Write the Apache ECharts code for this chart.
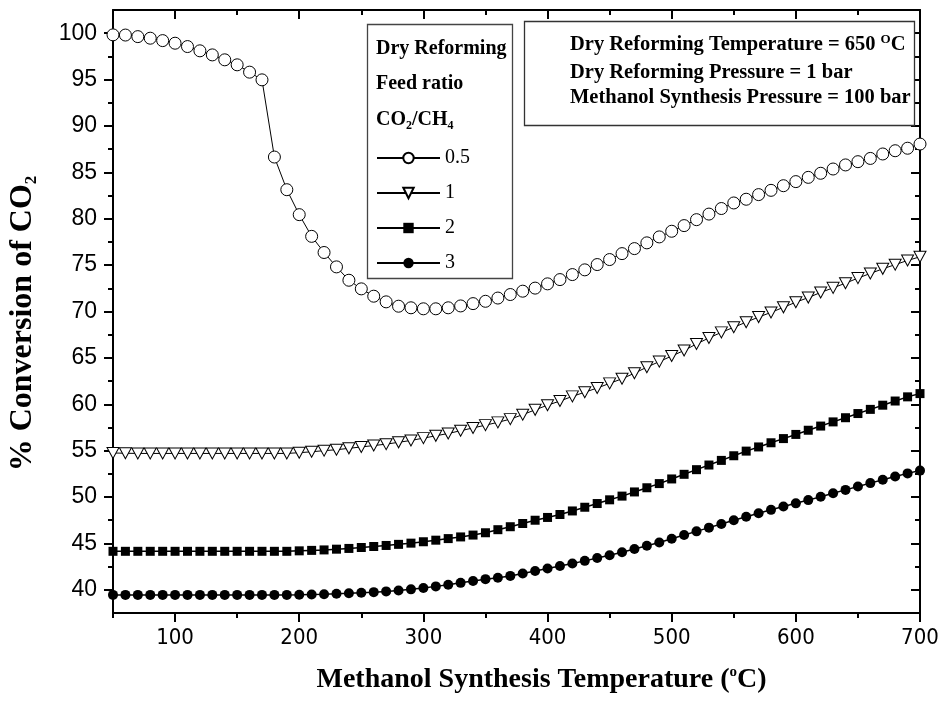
<!DOCTYPE html>
<html>
<head>
<meta charset="utf-8">
<script src="https://cdn.jsdelivr.net/npm/echarts@6.0.0/dist/echarts.min.js"></script>
<style>
  html, body { margin: 0; padding: 0; background: #fff; }
  #chart { width: 943px; height: 701px; }
</style>
</head>
<body>
<div id="chart"></div>
<script>
// Methanol synthesis temperature (°C)
const temps = [
  50, 60, 70, 80, 90, 100, 110, 120, 130, 140, 150, 160, 170, 180, 190, 200,
  210, 220, 230, 240, 250, 260, 270, 280, 290, 300, 310, 320, 330, 340, 350,
  360, 370, 380, 390, 400, 410, 420, 430, 440, 450, 460, 470, 480, 490, 500,
  510, 520, 530, 540, 550, 560, 570, 580, 590, 600, 610, 620, 630, 640, 650,
  660, 670, 680, 690, 700
];

// % conversion of CO2 for each CO2/CH4 feed ratio
const conv05 = [
  99.82, 99.8, 99.63, 99.46, 99.2, 98.92, 98.56, 98.1, 97.66, 97.13, 96.59, 95.8, 94.97, 86.65, 83.13, 80.44,
  78.1, 76.36, 74.81, 73.37, 72.44, 71.65, 71.04, 70.57, 70.4, 70.29, 70.29, 70.4, 70.6, 70.85, 71.1,
  71.45, 71.83, 72.19, 72.52, 72.98, 73.44, 73.98, 74.49, 75.06, 75.6, 76.24, 76.78, 77.4, 78.04, 78.65,
  79.26, 79.9, 80.5, 81.1, 81.7, 82.1, 82.6, 83.06, 83.56, 84.0, 84.46, 84.9, 85.36, 85.8, 86.15,
  86.5, 86.98, 87.33, 87.6, 88.05
];
const conv1 = [
  54.75, 54.72, 54.7, 54.7, 54.7, 54.7, 54.7, 54.7, 54.7, 54.7, 54.7, 54.7, 54.7, 54.7, 54.7, 54.78,
  54.88, 55.0, 55.1, 55.25, 55.4, 55.55, 55.7, 55.9, 56.1, 56.35, 56.6, 56.85, 57.15, 57.45, 57.75,
  58.05, 58.4, 58.88, 59.4, 59.9, 60.35, 60.85, 61.3, 61.75, 62.25, 62.75, 63.35, 64.0, 64.6, 65.2,
  65.8, 66.5, 67.15, 67.75, 68.3, 68.85, 69.4, 69.9, 70.45, 71.0, 71.5, 72.05, 72.55, 73.05, 73.6,
  74.1, 74.6, 75.05, 75.5, 75.9
];
const conv2 = [
  44.15, 44.15, 44.15, 44.15, 44.15, 44.15, 44.15, 44.15, 44.15, 44.15, 44.15, 44.15, 44.15, 44.15, 44.15, 44.2,
  44.25, 44.3, 44.38, 44.46, 44.56, 44.67, 44.78, 44.9, 45.03, 45.18, 45.35, 45.52, 45.7, 45.9, 46.15,
  46.48, 46.8, 47.15, 47.5, 47.8, 48.12, 48.5, 48.9, 49.3, 49.7, 50.1, 50.55, 51.0, 51.45, 51.95,
  52.45, 52.95, 53.45, 53.95, 54.45, 54.95, 55.4, 55.85, 56.3, 56.75, 57.2, 57.65, 58.1, 58.55, 59.0,
  59.45, 59.9, 60.35, 60.8, 61.15
];
const conv3 = [
  39.45, 39.45, 39.45, 39.45, 39.45, 39.45, 39.45, 39.45, 39.45, 39.45, 39.45, 39.45, 39.45, 39.45, 39.45, 39.47,
  39.5, 39.53, 39.57, 39.62, 39.68, 39.75, 39.83, 39.93, 40.05, 40.2, 40.37, 40.55, 40.75, 40.95, 41.15,
  41.3, 41.5, 41.76, 42.02, 42.3, 42.57, 42.84, 43.12, 43.43, 43.73, 44.05, 44.4, 44.75, 45.1, 45.5,
  45.9, 46.3, 46.7, 47.1, 47.5, 47.87, 48.25, 48.62, 48.98, 49.32, 49.67, 50.03, 50.4, 50.77, 51.13,
  51.5, 51.87, 52.22, 52.55, 52.85
];

const seriesNames = ['0.5', '1', '2', '3'];

// Tick positions
const xMajorTicks = [100, 200, 300, 400, 500, 600, 700];
const xMinorTicks = [50, 150, 250, 350, 450, 550, 650];
const yMajorTicks = [40, 45, 50, 55, 60, 65, 70, 75, 80, 85, 90, 95, 100];
const yMinorTicks = [42.5, 47.5, 52.5, 57.5, 62.5, 67.5, 72.5, 77.5, 82.5, 87.5, 92.5, 97.5];

const SERIF = '"Liberation Serif", "Times New Roman", serif';
const SANS = '"Liberation Sans", Arial, sans-serif';
const NARROW = '"Liberation Sans Narrow", "DejaVu Sans Condensed", "Liberation Sans", sans-serif';

const pairs = vals => temps.map((t, i) => [t, vals[i]]);

const lineBlack = { color: '#000', width: 2 };

function tickAxis(base, position, ticks, len, inside, showLine) {
  return Object.assign({
    type: 'value',
    position: position,
    scale: true,
    axisLine: { show: showLine, onZero: false, lineStyle: lineBlack },
    axisTick: { show: true, customValues: ticks, length: len, inside: inside, lineStyle: { color: '#000', width: 2 } },
    axisLabel: { show: false },
    splitLine: { show: false },
    minorTick: { show: false }
  }, base);
}

const X_RANGE = { min: 50, max: 700 };
const Y_RANGE = { min: 37.5, max: 102.5 };

const xMain = tickAxis(X_RANGE, 'bottom', xMajorTicks, 9, false, true);
xMain.axisLabel = {
  show: true, customValues: xMajorTicks, margin: 14,
  fontFamily: NARROW, fontSize: 22, color: '#000'
};
xMain.name = '{t|Methanol Synthesis Temperature (}{sup|o}{t|C)}';
xMain.nameLocation = 'middle';
xMain.nameGap = 52;
xMain.nameTextStyle = {
  padding: [0, 0, 0, 50],
  rich: {
    t: { fontFamily: SERIF, fontWeight: 'bold', fontSize: 28, color: '#000', lineHeight: 30 },
    sup: { fontFamily: SERIF, fontWeight: 'bold', fontSize: 15, color: '#000', verticalAlign: 'top', lineHeight: 15 }
  }
};

const yMain = tickAxis(Y_RANGE, 'left', yMajorTicks, 9, false, true);
yMain.axisLabel = {
  show: true, customValues: yMajorTicks, margin: 16,
  fontFamily: SANS, fontSize: 23, color: '#000'
};
yMain.name = '{t|% Conversion of CO}{sub|2}';
yMain.nameLocation = 'middle';
yMain.nameGap = 73;
yMain.nameTextStyle = {
  padding: [0, 24, 0, 0],
  rich: {
    t: { fontFamily: SERIF, fontWeight: 'bold', fontSize: 32, color: '#000', lineHeight: 34 },
    sub: { fontFamily: SERIF, fontWeight: 'bold', fontSize: 17, color: '#000', verticalAlign: 'bottom', lineHeight: 17 }
  }
};

const option = {
  backgroundColor: '#fff',
  animation: false,
  grid: { left: 113, right: 23, top: 10, bottom: 88, outerBoundsMode: 'none' },
  xAxis: [
    xMain,
    tickAxis(X_RANGE, 'bottom', xMinorTicks, 5, false, false),
    tickAxis(X_RANGE, 'top', xMajorTicks, 9, true, true),
    tickAxis(X_RANGE, 'top', xMinorTicks, 5, true, false)
  ],
  yAxis: [
    yMain,
    tickAxis(Y_RANGE, 'left', yMinorTicks, 5, false, false),
    tickAxis(Y_RANGE, 'right', yMajorTicks, 9, true, true),
    tickAxis(Y_RANGE, 'right', yMinorTicks, 5, true, false)
  ],
  legend: {
    data: seriesNames,
    orient: 'vertical',
    left: 376,
    top: 148,
    padding: 0,
    itemWidth: 63,
    itemHeight: 13,
    itemGap: 15,
    selectedMode: false,
    textStyle: { fontFamily: SERIF, fontSize: 20, color: '#000' }
  },
  graphic: [
    { type: 'rect', shape: { x: 367.5, y: 24.5, width: 145, height: 254 },
      style: { fill: 'none', stroke: '#444', lineWidth: 1.3 }, z: 10 },
    { type: 'text', x: 376, y: 49, z: 10,
      style: { text: 'Dry Reforming', fontFamily: SERIF, fontWeight: 'bold', fontSize: 20, fill: '#000', verticalAlign: 'middle' } },
    { type: 'text', x: 376, y: 84, z: 10,
      style: { text: 'Feed ratio', fontFamily: SERIF, fontWeight: 'bold', fontSize: 20, fill: '#000', verticalAlign: 'middle' } },
    { type: 'text', x: 376, y: 120, z: 10,
      style: {
        text: '{b|CO}{s|2}{b|/CH}{s|4}', verticalAlign: 'middle',
        rich: {
          b: { fontFamily: SERIF, fontWeight: 'bold', fontSize: 20, fill: '#000', lineHeight: 24 },
          s: { fontFamily: SERIF, fontWeight: 'bold', fontSize: 12, fill: '#000', verticalAlign: 'bottom', lineHeight: 12 }
        }
      } },
    { type: 'rect', shape: { x: 524.5, y: 21.5, width: 390, height: 104 },
      style: { fill: '#fff', stroke: '#333', lineWidth: 1.3 }, z: 10 },
    { type: 'text', x: 570, y: 45, z: 11,
      style: {
        text: '{b|Dry Reforming Temperature = 650 }{sup|O}{b|C}', verticalAlign: 'middle',
        rich: {
          b: { fontFamily: SERIF, fontWeight: 'bold', fontSize: 20.5, fill: '#000', lineHeight: 24 },
          sup: { fontFamily: SERIF, fontWeight: 'bold', fontSize: 13, fill: '#000', verticalAlign: 'top', lineHeight: 13 }
        }
      } },
    { type: 'text', x: 570, y: 73, z: 11,
      style: { text: 'Dry Reforming Pressure = 1 bar', fontFamily: SERIF, fontWeight: 'bold', fontSize: 20.5, fill: '#000', verticalAlign: 'middle' } },
    { type: 'text', x: 570, y: 98, z: 11,
      style: { text: 'Methanol Synthesis Pressure = 100 bar', fontFamily: SERIF, fontWeight: 'bold', fontSize: 20.5, fill: '#000', verticalAlign: 'middle' } }
  ],
  series: [
    {
      name: seriesNames[0], type: 'line', data: pairs(conv05),
      symbol: 'circle', symbolSize: 12, showAllSymbol: true,
      itemStyle: { color: '#fff', borderColor: '#000', borderWidth: 1 },
      lineStyle: { color: '#000', width: 1 },
      emphasis: { disabled: true }
    },
    {
      name: seriesNames[1], type: 'line', data: pairs(conv1),
      symbol: 'triangle', symbolRotate: 180, symbolSize: [12, 11], showAllSymbol: true,
      itemStyle: { color: '#fff', borderColor: '#000', borderWidth: 1 },
      lineStyle: { color: '#000', width: 1 },
      emphasis: { disabled: true }
    },
    {
      name: seriesNames[2], type: 'line', data: pairs(conv2),
      symbol: 'rect', symbolSize: 9, showAllSymbol: true,
      itemStyle: { color: '#000', borderColor: '#000', borderWidth: 0 },
      lineStyle: { color: '#000', width: 1.5 },
      emphasis: { disabled: true }
    },
    {
      name: seriesNames[3], type: 'line', data: pairs(conv3),
      symbol: 'circle', symbolSize: 10, showAllSymbol: true,
      itemStyle: { color: '#000', borderColor: '#000', borderWidth: 0 },
      lineStyle: { color: '#000', width: 1.5 },
      emphasis: { disabled: true }
    }
  ]
};

const chart = echarts.init(document.getElementById('chart'), null, { renderer: 'canvas' });
chart.setOption(option);
</script>
</body>
</html>
